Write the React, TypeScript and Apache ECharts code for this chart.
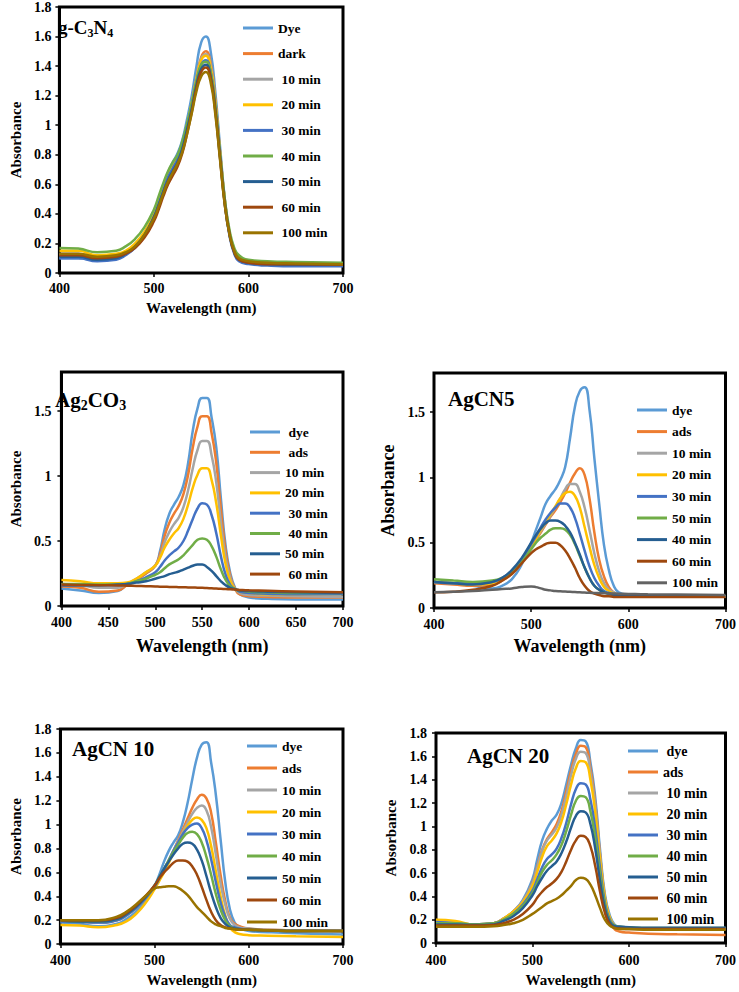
import React, { useEffect, useRef } from "react";
import * as echarts from "echarts";

const FONT = "'Liberation Serif', 'Times New Roman', serif";

const WAVELENGTHS = [400, 420, 440, 460, 470, 480, 490, 500, 505, 510, 515, 520, 525, 530, 535, 540, 545, 550, 555, 560, 565, 570, 575, 580, 585, 590, 600, 620, 650, 700];

const BLUE_L = "#5B9BD5";
const ORANGE = "#ED7D31";
const GRAY = "#A5A5A5";
const GOLD = "#FFC000";
const BLUE = "#4472C4";
const GREEN = "#70AD47";
const BLUE_D = "#255E91";
const BROWN = "#9E480E";
const OLIVE = "#997300";
const GRAY_D = "#636363";

// Panel 1: g-C3N4
const GCN_NAMES = ["Dye", "dark", " 10 min", " 20 min", " 30 min", " 40 min", " 50 min", " 60 min", " 100 min"];
const GCN_COLORS = [BLUE_L, ORANGE, GRAY, GOLD, BLUE, GREEN, BLUE_D, BROWN, OLIVE];
const GCN_VALUES = [
  [0.10, 0.10, 0.085, 0.10, 0.13, 0.18, 0.27, 0.40, 0.49, 0.59, 0.68, 0.75, 0.81, 0.90, 1.04, 1.20, 1.40, 1.56, 1.60, 1.50, 1.22, 0.85, 0.50, 0.27, 0.15, 0.10, 0.075, 0.06, 0.055, 0.05],
  [0.12, 0.12, 0.10, 0.11, 0.13, 0.17, 0.25, 0.37, 0.45, 0.54, 0.63, 0.70, 0.76, 0.85, 0.99, 1.14, 1.32, 1.46, 1.50, 1.42, 1.17, 0.82, 0.49, 0.27, 0.15, 0.10, 0.08, 0.065, 0.06, 0.06],
  [0.13, 0.13, 0.11, 0.12, 0.14, 0.19, 0.27, 0.39, 0.48, 0.57, 0.66, 0.72, 0.78, 0.87, 1.00, 1.15, 1.32, 1.45, 1.48, 1.40, 1.15, 0.81, 0.49, 0.27, 0.15, 0.10, 0.08, 0.07, 0.065, 0.06],
  [0.15, 0.15, 0.12, 0.13, 0.15, 0.20, 0.28, 0.40, 0.48, 0.57, 0.66, 0.72, 0.78, 0.87, 1.00, 1.15, 1.31, 1.44, 1.47, 1.39, 1.15, 0.81, 0.49, 0.27, 0.15, 0.10, 0.08, 0.07, 0.065, 0.06],
  [0.10, 0.10, 0.08, 0.09, 0.12, 0.17, 0.25, 0.38, 0.47, 0.56, 0.65, 0.71, 0.77, 0.86, 0.99, 1.13, 1.29, 1.41, 1.44, 1.36, 1.12, 0.79, 0.47, 0.25, 0.13, 0.08, 0.06, 0.05, 0.045, 0.045],
  [0.17, 0.165, 0.14, 0.15, 0.18, 0.23, 0.31, 0.43, 0.52, 0.61, 0.69, 0.75, 0.80, 0.89, 1.01, 1.15, 1.30, 1.41, 1.43, 1.36, 1.13, 0.81, 0.50, 0.29, 0.17, 0.12, 0.09, 0.08, 0.075, 0.07],
  [0.11, 0.11, 0.09, 0.10, 0.13, 0.18, 0.26, 0.38, 0.46, 0.55, 0.63, 0.69, 0.75, 0.84, 0.97, 1.11, 1.27, 1.38, 1.41, 1.33, 1.10, 0.78, 0.47, 0.26, 0.14, 0.09, 0.07, 0.06, 0.055, 0.055],
  [0.12, 0.12, 0.10, 0.11, 0.13, 0.17, 0.24, 0.35, 0.43, 0.52, 0.60, 0.66, 0.72, 0.81, 0.94, 1.09, 1.25, 1.36, 1.39, 1.32, 1.09, 0.77, 0.46, 0.26, 0.14, 0.09, 0.07, 0.06, 0.06, 0.055],
  [0.13, 0.13, 0.11, 0.12, 0.14, 0.18, 0.26, 0.37, 0.45, 0.54, 0.62, 0.68, 0.74, 0.82, 0.94, 1.08, 1.23, 1.33, 1.36, 1.29, 1.07, 0.76, 0.46, 0.26, 0.15, 0.10, 0.08, 0.07, 0.065, 0.06],
];

// Panel 2: Ag2CO3
const AGC_NAMES = [" dye", " ads", "10 min", "20 min", " 30 min", " 40 min", "50 min", " 60 min"];
const AGC_COLORS = [BLUE_L, ORANGE, GRAY, GOLD, BLUE, GREEN, BLUE_D, BROWN];
const AGC_VALUES = [
  [0.135, 0.12, 0.10, 0.115, 0.165, 0.20, 0.25, 0.31, 0.42, 0.59, 0.71, 0.78, 0.84, 0.93, 1.10, 1.35, 1.52, 1.60, 1.60, 1.45, 1.22, 0.82, 0.46, 0.25, 0.14, 0.09, 0.065, 0.055, 0.05, 0.05],
  [0.15, 0.14, 0.11, 0.12, 0.16, 0.20, 0.25, 0.31, 0.40, 0.54, 0.64, 0.71, 0.77, 0.86, 1.01, 1.22, 1.38, 1.46, 1.46, 1.33, 1.10, 0.74, 0.42, 0.23, 0.13, 0.09, 0.075, 0.07, 0.065, 0.065],
  [0.17, 0.16, 0.14, 0.14, 0.17, 0.21, 0.26, 0.31, 0.38, 0.49, 0.57, 0.63, 0.68, 0.76, 0.89, 1.06, 1.20, 1.27, 1.27, 1.16, 0.95, 0.64, 0.37, 0.21, 0.13, 0.10, 0.085, 0.08, 0.075, 0.07],
  [0.20, 0.19, 0.175, 0.175, 0.18, 0.21, 0.26, 0.31, 0.37, 0.45, 0.51, 0.56, 0.60, 0.67, 0.78, 0.91, 1.01, 1.06, 1.06, 0.97, 0.79, 0.54, 0.32, 0.19, 0.13, 0.11, 0.10, 0.09, 0.09, 0.09],
  [0.16, 0.16, 0.16, 0.16, 0.17, 0.19, 0.22, 0.26, 0.30, 0.35, 0.39, 0.42, 0.45, 0.50, 0.58, 0.67, 0.75, 0.79, 0.78, 0.70, 0.56, 0.38, 0.24, 0.16, 0.13, 0.11, 0.10, 0.095, 0.09, 0.09],
  [0.17, 0.17, 0.165, 0.165, 0.17, 0.19, 0.21, 0.24, 0.26, 0.29, 0.32, 0.34, 0.36, 0.39, 0.43, 0.47, 0.51, 0.52, 0.51, 0.46, 0.38, 0.28, 0.20, 0.15, 0.13, 0.12, 0.11, 0.105, 0.10, 0.10],
  [0.16, 0.16, 0.16, 0.165, 0.17, 0.18, 0.19, 0.21, 0.22, 0.23, 0.245, 0.255, 0.265, 0.28, 0.295, 0.31, 0.32, 0.32, 0.30, 0.27, 0.23, 0.19, 0.16, 0.14, 0.13, 0.12, 0.115, 0.11, 0.105, 0.10],
  [0.165, 0.162, 0.16, 0.158, 0.156, 0.154, 0.152, 0.150, 0.149, 0.148, 0.147, 0.146, 0.145, 0.144, 0.143, 0.142, 0.141, 0.140, 0.138, 0.136, 0.134, 0.132, 0.130, 0.128, 0.126, 0.124, 0.121, 0.117, 0.112, 0.105],
];

// Panel 3: AgCN5
const CN5_NAMES = ["dye", "ads", "10 min", "20 min", "30 min", "50 min", "40 min", "60 min", "100 min"];
const CN5_COLORS = [BLUE_L, ORANGE, GRAY, GOLD, BLUE, GREEN, BLUE_D, BROWN, GRAY_D];
const CN5_VALUES = [
  [0.20, 0.19, 0.17, 0.15, 0.17, 0.22, 0.33, 0.50, 0.60, 0.70, 0.80, 0.86, 0.91, 0.98, 1.08, 1.30, 1.54, 1.66, 1.69, 1.52, 1.15, 0.80, 0.48, 0.29, 0.17, 0.12, 0.10, 0.095, 0.09, 0.09],
  [0.19, 0.18, 0.17, 0.18, 0.21, 0.26, 0.34, 0.46, 0.52, 0.58, 0.64, 0.70, 0.75, 0.81, 0.88, 0.96, 1.03, 1.07, 1.02, 0.84, 0.58, 0.37, 0.24, 0.16, 0.12, 0.10, 0.095, 0.09, 0.09, 0.09],
  [0.20, 0.19, 0.18, 0.19, 0.22, 0.27, 0.36, 0.47, 0.53, 0.59, 0.65, 0.71, 0.77, 0.84, 0.91, 0.95, 0.95, 0.89, 0.77, 0.60, 0.42, 0.28, 0.19, 0.14, 0.12, 0.10, 0.095, 0.09, 0.09, 0.09],
  [0.20, 0.19, 0.18, 0.19, 0.22, 0.27, 0.36, 0.47, 0.53, 0.60, 0.66, 0.72, 0.78, 0.84, 0.88, 0.89, 0.86, 0.77, 0.62, 0.47, 0.33, 0.23, 0.16, 0.13, 0.11, 0.10, 0.095, 0.09, 0.09, 0.09],
  [0.20, 0.19, 0.19, 0.20, 0.23, 0.28, 0.37, 0.49, 0.55, 0.62, 0.68, 0.73, 0.77, 0.80, 0.80, 0.77, 0.69, 0.57, 0.44, 0.32, 0.23, 0.17, 0.13, 0.115, 0.105, 0.10, 0.095, 0.09, 0.09, 0.09],
  [0.22, 0.21, 0.20, 0.21, 0.23, 0.27, 0.35, 0.45, 0.50, 0.54, 0.57, 0.60, 0.61, 0.61, 0.60, 0.56, 0.49, 0.40, 0.31, 0.23, 0.17, 0.14, 0.12, 0.11, 0.10, 0.10, 0.095, 0.09, 0.09, 0.09],
  [0.20, 0.19, 0.18, 0.20, 0.23, 0.29, 0.38, 0.50, 0.56, 0.61, 0.65, 0.67, 0.67, 0.66, 0.63, 0.58, 0.50, 0.41, 0.31, 0.23, 0.17, 0.14, 0.12, 0.11, 0.10, 0.10, 0.095, 0.09, 0.09, 0.09],
  [0.12, 0.125, 0.14, 0.17, 0.21, 0.26, 0.34, 0.42, 0.45, 0.47, 0.49, 0.50, 0.50, 0.48, 0.44, 0.38, 0.31, 0.23, 0.17, 0.13, 0.11, 0.10, 0.09, 0.09, 0.085, 0.085, 0.085, 0.085, 0.085, 0.085],
  [0.12, 0.125, 0.13, 0.14, 0.145, 0.15, 0.16, 0.165, 0.16, 0.15, 0.14, 0.135, 0.13, 0.128, 0.126, 0.124, 0.122, 0.12, 0.118, 0.116, 0.115, 0.114, 0.113, 0.112, 0.111, 0.11, 0.108, 0.105, 0.103, 0.10],
];

// Panel 4: AgCN 10
const CN10_NAMES = ["dye", "ads", "10 min", "20 min", "30 min", "40 min", "50 min", "60 min", "100 min"];
const CN10_COLORS = [BLUE_L, ORANGE, GRAY, GOLD, BLUE, GREEN, BLUE_D, BROWN, OLIVE];
const CN10_VALUES = [
  [0.18, 0.17, 0.15, 0.17, 0.21, 0.27, 0.36, 0.49, 0.58, 0.69, 0.78, 0.85, 0.91, 1.02, 1.18, 1.38, 1.56, 1.67, 1.69, 1.52, 1.25, 0.88, 0.52, 0.29, 0.18, 0.14, 0.11, 0.10, 0.09, 0.08],
  [0.20, 0.19, 0.18, 0.20, 0.24, 0.30, 0.38, 0.48, 0.55, 0.62, 0.70, 0.78, 0.87, 0.96, 1.05, 1.14, 1.21, 1.25, 1.22, 1.10, 0.85, 0.58, 0.36, 0.22, 0.17, 0.15, 0.13, 0.12, 0.115, 0.11],
  [0.20, 0.19, 0.18, 0.20, 0.24, 0.30, 0.38, 0.48, 0.55, 0.62, 0.70, 0.78, 0.86, 0.94, 1.02, 1.09, 1.14, 1.16, 1.12, 0.98, 0.75, 0.51, 0.33, 0.21, 0.16, 0.14, 0.13, 0.12, 0.115, 0.11],
  [0.16, 0.155, 0.14, 0.16, 0.19, 0.25, 0.34, 0.46, 0.53, 0.60, 0.68, 0.76, 0.84, 0.92, 0.99, 1.04, 1.06, 1.04, 0.97, 0.82, 0.61, 0.40, 0.24, 0.14, 0.10, 0.085, 0.075, 0.07, 0.065, 0.06],
  [0.19, 0.185, 0.18, 0.20, 0.24, 0.30, 0.38, 0.48, 0.55, 0.62, 0.70, 0.78, 0.85, 0.92, 0.97, 1.00, 1.01, 0.97, 0.87, 0.71, 0.52, 0.35, 0.23, 0.16, 0.14, 0.13, 0.12, 0.115, 0.11, 0.11],
  [0.20, 0.19, 0.19, 0.21, 0.25, 0.31, 0.39, 0.49, 0.56, 0.63, 0.70, 0.77, 0.83, 0.89, 0.93, 0.94, 0.92, 0.85, 0.73, 0.58, 0.42, 0.29, 0.20, 0.15, 0.13, 0.125, 0.12, 0.115, 0.11, 0.11],
  [0.20, 0.19, 0.19, 0.21, 0.25, 0.31, 0.39, 0.49, 0.56, 0.63, 0.69, 0.75, 0.80, 0.84, 0.85, 0.84, 0.79, 0.70, 0.57, 0.43, 0.31, 0.22, 0.17, 0.14, 0.13, 0.125, 0.12, 0.115, 0.11, 0.11],
  [0.20, 0.20, 0.20, 0.22, 0.26, 0.32, 0.40, 0.49, 0.55, 0.60, 0.64, 0.68, 0.70, 0.70, 0.69, 0.65, 0.58, 0.48, 0.37, 0.27, 0.20, 0.16, 0.14, 0.13, 0.125, 0.12, 0.12, 0.115, 0.11, 0.11],
  [0.20, 0.20, 0.20, 0.23, 0.27, 0.33, 0.40, 0.465, 0.475, 0.48, 0.485, 0.485, 0.47, 0.445, 0.41, 0.36, 0.31, 0.27, 0.23, 0.19, 0.165, 0.15, 0.135, 0.13, 0.125, 0.12, 0.12, 0.115, 0.11, 0.11],
];

// Panel 5: AgCN 20
const CN20_NAMES = [" dye", "ads", " 10 min", " 20 min", " 30 min", " 40 min", " 50 min", " 60 min", " 100 min"];
const CN20_COLORS = [BLUE_L, ORANGE, GRAY, GOLD, BLUE, GREEN, BLUE_D, BROWN, OLIVE];
const CN20_VALUES = [
  [0.17, 0.165, 0.15, 0.17, 0.21, 0.27, 0.37, 0.55, 0.72, 0.88, 0.98, 1.05, 1.10, 1.20, 1.36, 1.53, 1.67, 1.74, 1.73, 1.55, 1.25, 0.80, 0.42, 0.24, 0.16, 0.14, 0.13, 0.13, 0.13, 0.13],
  [0.16, 0.16, 0.15, 0.17, 0.21, 0.27, 0.36, 0.52, 0.66, 0.80, 0.89, 0.95, 1.02, 1.13, 1.30, 1.48, 1.62, 1.69, 1.68, 1.50, 1.20, 0.76, 0.39, 0.20, 0.12, 0.10, 0.09, 0.08, 0.075, 0.07],
  [0.18, 0.175, 0.16, 0.17, 0.21, 0.27, 0.36, 0.51, 0.65, 0.79, 0.88, 0.93, 0.99, 1.10, 1.26, 1.44, 1.58, 1.64, 1.63, 1.46, 1.17, 0.75, 0.40, 0.22, 0.15, 0.13, 0.125, 0.12, 0.12, 0.12],
  [0.20, 0.19, 0.16, 0.17, 0.21, 0.27, 0.35, 0.49, 0.61, 0.74, 0.83, 0.88, 0.94, 1.04, 1.19, 1.36, 1.50, 1.56, 1.55, 1.40, 1.12, 0.72, 0.39, 0.22, 0.15, 0.13, 0.125, 0.12, 0.12, 0.12],
  [0.18, 0.17, 0.16, 0.17, 0.20, 0.25, 0.33, 0.45, 0.55, 0.65, 0.72, 0.76, 0.81, 0.90, 1.03, 1.19, 1.32, 1.37, 1.36, 1.23, 0.98, 0.64, 0.35, 0.20, 0.15, 0.14, 0.135, 0.13, 0.13, 0.13],
  [0.17, 0.17, 0.16, 0.17, 0.20, 0.25, 0.32, 0.43, 0.52, 0.61, 0.67, 0.71, 0.76, 0.84, 0.96, 1.10, 1.22, 1.26, 1.25, 1.13, 0.90, 0.59, 0.33, 0.19, 0.15, 0.14, 0.135, 0.13, 0.13, 0.13],
  [0.16, 0.16, 0.155, 0.16, 0.19, 0.23, 0.30, 0.41, 0.49, 0.56, 0.62, 0.66, 0.70, 0.77, 0.87, 0.99, 1.09, 1.13, 1.12, 1.02, 0.81, 0.53, 0.30, 0.18, 0.145, 0.14, 0.135, 0.13, 0.13, 0.13],
  [0.15, 0.15, 0.15, 0.155, 0.17, 0.20, 0.25, 0.33, 0.39, 0.44, 0.48, 0.51, 0.55, 0.61, 0.70, 0.80, 0.88, 0.92, 0.91, 0.83, 0.66, 0.44, 0.26, 0.16, 0.13, 0.125, 0.12, 0.12, 0.12, 0.12],
  [0.14, 0.14, 0.14, 0.145, 0.155, 0.17, 0.20, 0.25, 0.28, 0.31, 0.34, 0.36, 0.38, 0.41, 0.45, 0.49, 0.54, 0.56, 0.55, 0.50, 0.41, 0.30, 0.20, 0.15, 0.13, 0.12, 0.12, 0.115, 0.115, 0.115],
];

type Panel = {
  box: [number, number, number, number];
  grid: [number, number, number, number];
  yInterval: number;
  xInterval: number;
  names: string[];
  colors: string[];
  values: number[][];
  label: string;
  labelRich: boolean;
  labelSize: number;
  labelPos: [number, number];
  legendPos: [number, number];
  legendGap: number;
  legendFont: number;
  tickFont: number;
  xNameFont: number;
  xNameGap: number;
  yNameFont: number;
  yNameGap: number;
  xLabelMargin: number;
  yLabelMargin: number;
};

const PANELS: Panel[] = [
  {
    box: [0, 0, 370, 320], grid: [52, 7, 291, 267], yInterval: 0.2, xInterval: 100,
    names: GCN_NAMES, colors: GCN_COLORS, values: GCN_VALUES,
    label: "{a|g-C}{s|3}{a|N}{s|4}", labelRich: true, labelSize: 19, labelPos: [58, 18],
    legendPos: [243, 21], legendGap: 11.6, legendFont: 13.5, tickFont: 14,
    xNameFont: 15, xNameGap: 27, yNameFont: 15, yNameGap: 32, xLabelMargin: 8, yLabelMargin: 8,
  },
  {
    box: [0, 320, 370, 340], grid: [39, 52, 304, 245], yInterval: 0.5, xInterval: 50,
    names: AGC_NAMES, colors: AGC_COLORS, values: AGC_VALUES,
    label: "{a|Ag}{s|2}{a|CO}{s|3}", labelRich: true, labelSize: 21, labelPos: [55, 69],
    legendPos: [250, 105], legendGap: 6.3, legendFont: 13.5, tickFont: 14,
    xNameFont: 18, xNameGap: 31, yNameFont: 15, yNameGap: 23, xLabelMargin: 9, yLabelMargin: 10,
  },
  {
    box: [370, 320, 369, 340], grid: [64, 53, 294, 246], yInterval: 0.5, xInterval: 100,
    names: CN5_NAMES, colors: CN5_COLORS, values: CN5_VALUES,
    label: "AgCN5", labelRich: false, labelSize: 21, labelPos: [78, 68],
    legendPos: [267, 83], legendGap: 7.6, legendFont: 13.5, tickFont: 14,
    xNameFont: 18, xNameGap: 29, yNameFont: 18, yNameGap: 32, xLabelMargin: 9, yLabelMargin: 9,
  },
  {
    box: [0, 660, 370, 332], grid: [42, 69, 301, 221], yInterval: 0.2, xInterval: 100,
    names: CN10_NAMES, colors: CN10_COLORS, values: CN10_VALUES,
    label: "AgCN 10", labelRich: false, labelSize: 21, labelPos: [72, 78],
    legendPos: [247, 79], legendGap: 8, legendFont: 13.5, tickFont: 14,
    xNameFont: 15, xNameGap: 23, yNameFont: 15, yNameGap: 28, xLabelMargin: 9, yLabelMargin: 9,
  },
  {
    box: [370, 660, 369, 332], grid: [66, 73, 292, 216], yInterval: 0.2, xInterval: 100,
    names: CN20_NAMES, colors: CN20_COLORS, values: CN20_VALUES,
    label: "AgCN 20", labelRich: false, labelSize: 21, labelPos: [97, 85],
    legendPos: [258, 84], legendGap: 7, legendFont: 14, tickFont: 14,
    xNameFont: 15, xNameGap: 25, yNameFont: 15, yNameGap: 32, xLabelMargin: 10, yLabelMargin: 9,
  },
];

const LEGEND_LINE_ICON = "path://M0,0 L30,0 L30,3 L0,3 Z";

function buildOption(p: Panel): any {
  const bold = { fontFamily: FONT, fontWeight: "bold" as const, color: "#000" };
  const series = p.names.map((name, i) => ({
    name,
    type: "line",
    data: WAVELENGTHS.map((w, j) => [w, p.values[i][j]]),
    symbol: "none",
    showSymbol: false,
    smooth: 0.5,
    lineStyle: { width: 2.5, color: p.colors[i] },
    itemStyle: { color: p.colors[i] },
    z: 2,
  }));
  const title = p.labelRich
    ? {
        text: p.label,
        left: p.labelPos[0],
        top: p.labelPos[1],
        padding: 0,
        textStyle: {
          rich: {
            a: { ...bold, fontSize: p.labelSize, lineHeight: p.labelSize + 1, verticalAlign: "top" },
            s: { ...bold, fontSize: Math.round(p.labelSize * 0.65), lineHeight: 12, padding: [p.labelSize * 0.55, 0, 0, 0] },
          },
        },
      }
    : {
        text: p.label,
        left: p.labelPos[0],
        top: p.labelPos[1],
        padding: 0,
        textStyle: { ...bold, fontSize: p.labelSize },
      };
  return {
    animation: false,
    backgroundColor: "#fff",
    title,
    legend: {
      orient: "vertical",
      left: p.legendPos[0],
      top: p.legendPos[1],
      itemWidth: 30,
      itemHeight: 14,
      itemGap: p.legendGap,
      padding: 0,
      icon: LEGEND_LINE_ICON,
      data: p.names.map((name, i) => ({ name, icon: LEGEND_LINE_ICON, itemStyle: { color: p.colors[i] } })),
      textStyle: { ...bold, fontSize: p.legendFont },
    },
    grid: {
      left: p.grid[0],
      top: p.grid[1],
      width: p.grid[2],
      height: p.grid[3],
      show: true,
      borderColor: "#000",
      borderWidth: 3,
      backgroundColor: "#fff",
    },
    xAxis: {
      type: "value",
      min: 400,
      max: 700,
      interval: p.xInterval,
      name: "Wavelength (nm)",
      nameLocation: "middle",
      nameGap: p.xNameGap,
      nameTextStyle: { ...bold, fontSize: p.xNameFont },
      axisLine: { show: true, lineStyle: { color: "#000", width: 2 } },
      axisTick: { show: true, length: 4, lineStyle: { color: "#000", width: 1.5 } },
      axisLabel: { ...bold, fontSize: p.tickFont, margin: p.xLabelMargin },
      splitLine: { show: false },
    },
    yAxis: {
      type: "value",
      min: 0,
      max: 1.8,
      interval: p.yInterval,
      name: "Absorbance",
      nameLocation: "middle",
      nameGap: p.yNameGap,
      nameTextStyle: { ...bold, fontSize: p.yNameFont },
      axisLine: { show: true, lineStyle: { color: "#000", width: 2 } },
      axisTick: { show: true, length: 4, lineStyle: { color: "#000", width: 1.5 } },
      axisLabel: {
        ...bold,
        fontSize: p.tickFont,
        margin: p.yLabelMargin,
        showMaxLabel: p.yInterval === 0.2,
      },
      splitLine: { show: false },
    },
    series,
  };
}

function PanelChart({ p }: { p: Panel }) {
  const ref = useRef<HTMLDivElement>(null);
  useEffect(() => {
    if (!ref.current) return;
    const chart = echarts.init(ref.current, null, { renderer: "svg" });
    chart.setOption(buildOption(p));
    return () => chart.dispose();
  }, [p]);
  return (
    <div
      ref={ref}
      style={{ position: "absolute", left: p.box[0], top: p.box[1], width: p.box[2], height: p.box[3] }}
    />
  );
}

export default function App() {
  return (
    <div style={{ position: "absolute", left: 0, top: 0, width: 739, height: 992, background: "#fff", overflow: "hidden" }}>
      {PANELS.map((p, i) => (
        <PanelChart key={i} p={p} />
      ))}
    </div>
  );
}
